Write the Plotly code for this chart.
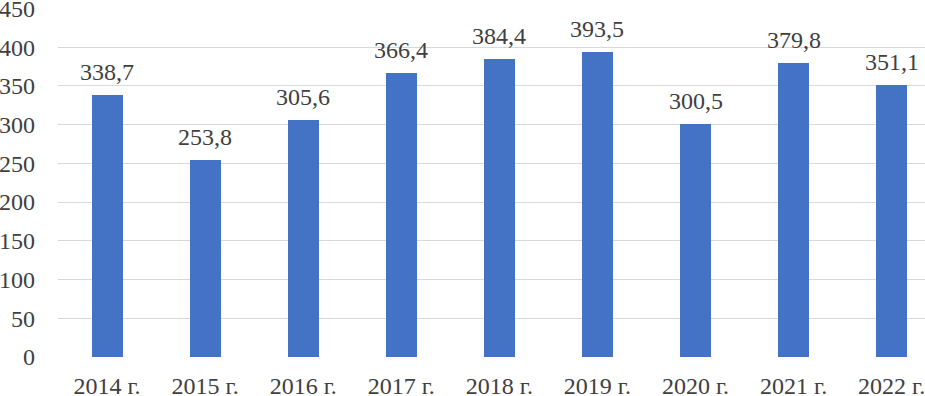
import plotly.graph_objects as go

years = ["2014 г.", "2015 г.", "2016 г.", "2017 г.", "2018 г.", "2019 г.", "2020 г.", "2021 г.", "2022 г."]
values = [338.7, 253.8, 305.6, 366.4, 384.4, 393.5, 300.5, 379.8, 351.1]
labels = ["338,7", "253,8", "305,6", "366,4", "384,4", "393,5", "300,5", "379,8", "351,1"]
y_ticks = [0, 50, 100, 150, 200, 250, 300, 350, 400, 450]

FONT = "Times New Roman"
TXT = "#404040"
FS = 24

fig = go.Figure()
fig.add_trace(go.Bar(x=years, y=values, marker_color="#4472C4", width=0.316,
                     marker_line_width=0, hoverinfo="skip"))

for yr, v, lab in zip(years, values, labels):
    fig.add_annotation(x=yr, y=v, text=lab, showarrow=False, yanchor="bottom",
                       yshift=8, font=dict(family=FONT, size=FS, color=TXT))

fig.update_layout(
    width=925, height=396,
    margin=dict(l=58, r=0, t=8, b=39, autoexpand=False),
    plot_bgcolor="white", paper_bgcolor="white",
    showlegend=False,
    font=dict(family=FONT, size=FS, color=TXT),
    bargap=0,
)
fig.update_xaxes(range=[-0.5, 8.34], showgrid=False, zeroline=False, showline=False,
                 ticks="", automargin=False, tickfont=dict(family=FONT, size=FS, color=TXT),
                 ticklabelstandoff=12, ticklabeloverflow="allow")
fig.update_yaxes(range=[0, 450.5], tickvals=y_ticks, showgrid=True, gridcolor="#d9d9d9",
                 gridwidth=1, zeroline=False, showline=False, ticks="", automargin=False,
                 tickfont=dict(family=FONT, size=FS, color=TXT), ticklabelstandoff=22,
                 ticklabeloverflow="allow")

fig.write_html("out.html", config={"displayModeBar": False},
               post_script="document.body.style.margin='0';")
